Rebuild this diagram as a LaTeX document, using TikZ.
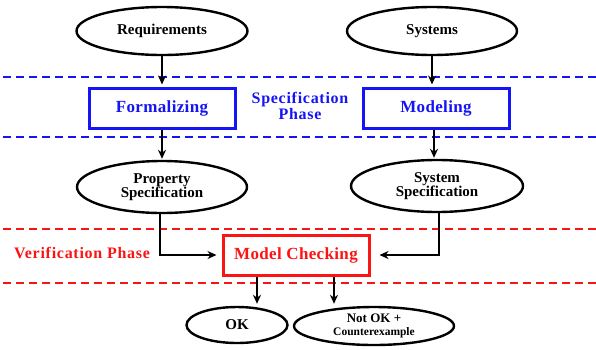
\documentclass[tikz,border=0pt]{standalone}
\usepackage{fontspec}
\setmainfont{Liberation Serif}
\usetikzlibrary{shapes.geometric,arrows.meta}
\definecolor{bl}{RGB}{20,20,245}
\definecolor{rd}{RGB}{250,20,20}
\tikzset{
  ell/.style={ellipse, draw=black, line width=2.4pt, inner sep=0pt, align=center,
    font=\bfseries\fontsize{15}{14.5}\selectfont},
  bbox/.style={rectangle, draw=bl, line width=3pt, inner sep=0pt, text=bl,
    minimum width=146pt, minimum height=40pt, font=\bfseries\fontsize{17}{17}\selectfont\addfontfeatures{LetterSpace=2}},
  rbox/.style={rectangle, draw=rd, line width=3pt, inner sep=0pt, text=rd,
    minimum width=146pt, minimum height=40pt, font=\bfseries\fontsize{17}{17}\selectfont\addfontfeatures{LetterSpace=2}},
  arr/.style={-{Stealth[length=9pt,width=8pt]}, line width=2pt, black},
  bdash/.style={draw=bl, line width=1.3pt, dash pattern=on 8pt off 5pt},
  rdash/.style={draw=rd, line width=1.3pt, dash pattern=on 8pt off 5pt},
  phase/.style={align=center, font=\bfseries\fontsize{16}{16}\selectfont\addfontfeatures{LetterSpace=4.5}}
}
\begin{document}
\begin{tikzpicture}[x=1pt,y=-1pt]
\useasboundingbox (0,0) rectangle (596,349);
% dashed phase lines
\coordinate (b1l) at (3,77); \coordinate (b1r) at (596,77);
\coordinate (b2l) at (3,137); \coordinate (b2r) at (596,137);
\coordinate (r1l) at (3,229); \coordinate (r1r) at (596,229);
\coordinate (r2l) at (3,283); \coordinate (r2r) at (596,283);
\draw[bdash] (b1l) -- (b1r);
\draw[bdash] (b2l) -- (b2r);
\draw[rdash] (r1l) -- (r1r);
\draw[rdash] (r2l) -- (r2r);
% nodes
\node[ell, minimum width=171pt, minimum height=48pt] (req) at (162,31) {Requirements};
\node[ell, minimum width=170pt, minimum height=48pt] (sys) at (432,31) {Systems};
\node[bbox] (form) at (162,108) {Formalizing};
\node[bbox] (model) at (436,108) {Modeling};
\node[phase, text=bl] (spec) at (300,106) {Specification\\Phase};
\node[ell, minimum width=170pt, minimum height=52pt] (prop) at (162,187) {Property\\Specification};
\node[ell, minimum width=172pt, minimum height=52pt] (sysspec) at (437,186) {System\\Specification};
\node[rbox] (mc) at (296,255) {Model Checking};
\node[phase, text=rd] (verif) at (82,253) {Verification Phase};
\node[ell, minimum width=101pt, minimum height=36pt] (ok) at (237,325) {OK};
\node[ell, minimum width=160pt, minimum height=38pt, font=\bfseries\fontsize{13}{13}\selectfont] (nok) at (374,326) {Not OK +\\{\fontsize{11.5}{12}\selectfont Counterexample}};
% connectors
\draw[arr, shorten >=2pt] (req.south) -- (req.south |- form.north);
\draw[arr, shorten >=2pt] (sys.south) -- (sys.south |- model.north);
\draw[arr, shorten >=1pt] (form.south) -- (prop.north);
\draw[arr, shorten >=1pt] ([xshift=-2pt]model.south) -- ([xshift=-2pt]model.south |- sysspec.north);
\draw[arr, shorten >=5pt] ([xshift=-2pt]prop.south) |- (mc.west);
\draw[arr, shorten >=9pt] ([xshift=2pt]sysspec.south) |- (mc.east);
\draw[arr, shorten >=2pt] ([xshift=-39pt]mc.south) -- ([xshift=-39pt]mc.south |- ok.north);
\draw[arr, shorten >=2pt] ([xshift=38pt]mc.south) -- ([xshift=38pt]mc.south |- nok.north);
\end{tikzpicture}
\end{document}
